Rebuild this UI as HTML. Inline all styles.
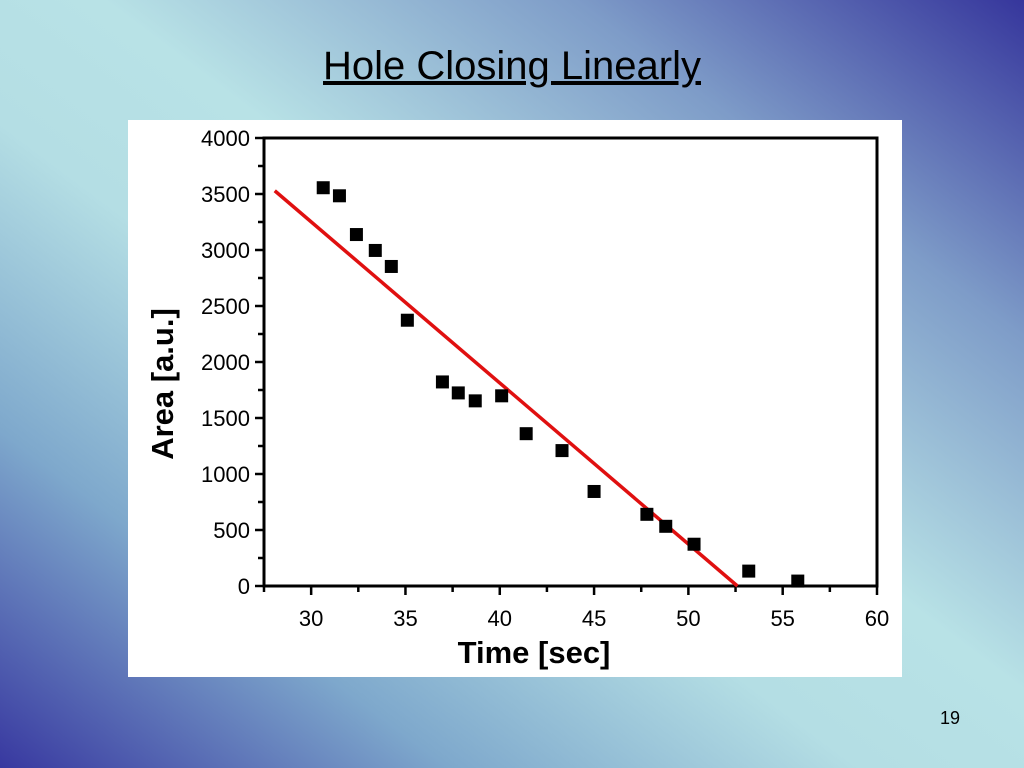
<!DOCTYPE html>
<html><head><meta charset="utf-8"><style>
html,body{margin:0;padding:0;width:1024px;height:768px;overflow:hidden}
body{background:linear-gradient(to top right,#3838a0 0%,#7ea8cc 22%,#b4dee4 42%,#b8e2e6 55%,#7e9cc8 78%,#36369c 100%);font-family:"Liberation Sans",sans-serif;position:relative}
#title{position:absolute;left:0;width:1024px;top:44px;text-align:center;font-size:40px;text-decoration:underline;color:#000}
#pn{position:absolute;left:940px;top:708px;font-size:18px}
#panel{position:absolute;left:128px;top:120px;width:774px;height:557px;background:#fff}
</style></head><body>
<div id="title">Hole Closing Linearly</div>
<div id="panel">
<svg id="chart" width="774" height="557"></svg>
</div>
<div id="pn">19</div>
<script>
const timeVals=[30.64,31.5,32.4,33.4,34.25,35.1,36.96,37.8,38.7,40.1,41.4,43.3,45.0,47.8,48.8,50.3,53.2,55.8];
const areaVals=[3556,3484,3138,2996,2853,2373,1822,1724,1653,1698,1360,1209,844,640,533,373,133,44];
const fitX=[28.07,52.6];
const fitY=[3529,0];
const xTicks=[30,35,40,45,50,55,60];
const yTicks=[0,500,1000,1500,2000,2500,3000,3500,4000];
const NS="http://www.w3.org/2000/svg";
const svg=document.getElementById('chart');
const L=136,R=749,T=18,B=466,xmin=27.5,xmax=60,ymin=0,ymax=4000;
function sx(v){return L+(v-xmin)/(xmax-xmin)*(R-L);}
function sy(v){return B-(v-ymin)/(ymax-ymin)*(B-T);}
function mk(t,a){const e=document.createElementNS(NS,t);for(const k in a)e.setAttribute(k,a[k]);svg.appendChild(e);return e;}
const frame=mk('rect',{x:L,y:T,width:R-L,height:B-T,fill:'none',stroke:'#000','stroke-width':3});


for(let v=27.5;v<=60.01;v+=2.5){const major=xTicks.includes(v);
 const t=mk('line',{x1:sx(v),x2:sx(v),y1:B,y2:B+(major?9:6),stroke:'#000','stroke-width':2.5});
 
 }
xTicks.forEach(v=>{const t=mk('text',{x:sx(v),y:B+40,'text-anchor':'middle','font-size':22,'font-family':'Liberation Sans, sans-serif'});t.textContent=v;
 
 });
for(let v=0;v<=4000;v+=250){const major=v%500===0;
 const t=mk('line',{x1:L,x2:L-(major?9:6),y1:sy(v),y2:sy(v),stroke:'#000','stroke-width':2.5});
 
 }
yTicks.forEach(v=>{const t=mk('text',{x:L-14,y:sy(v)+8,'text-anchor':'end','font-size':22,'font-family':'Liberation Sans, sans-serif'});t.textContent=v;
 
 });
const xt=mk('text',{x:406,y:543,'text-anchor':'middle','font-size':31,'font-weight':'bold','font-family':'Liberation Sans, sans-serif'});xt.textContent='Time [sec]';


const yt=mk('text',{x:0,y:0,'text-anchor':'middle','font-size':31,'font-weight':'bold','font-family':'Liberation Sans, sans-serif',transform:'translate(45,264) rotate(-90)'});yt.textContent='Area [a.u.]';


const fl=mk('line',{x1:sx(fitX[0]),y1:sy(fitY[0]),x2:sx(fitX[1]),y2:sy(fitY[1]),stroke:'#e01010','stroke-width':3.5});


timeVals.forEach((t,i)=>{const p=mk('rect',{x:sx(t)-6.5,y:sy(areaVals[i])-6.5,width:13,height:13,fill:'#000'});
 
 });
</script>
</body></html>
